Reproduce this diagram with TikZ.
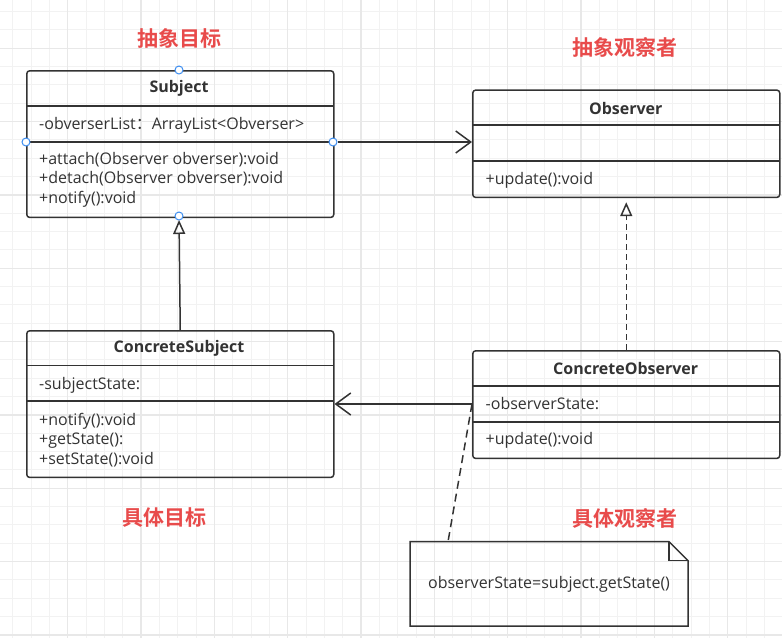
\documentclass[tikz,border=0pt]{standalone}
\usepackage{fontspec}
\setmainfont{Open Sans}
\newfontfamily\cjk{Noto Sans CJK SC}[BoldFont={Noto Sans CJK SC Bold}]
\usepackage{xcolor}
\usetikzlibrary{positioning, arrows.meta, calc}

\definecolor{linegray}{HTML}{333333}
\definecolor{titlered}{HTML}{E84B4B}
\definecolor{pinblue}{HTML}{3C8DF0}
\definecolor{gridminor}{HTML}{F2F2F2}
\definecolor{gridmajor}{HTML}{E8E8E8}

\begin{document}
\begin{tikzpicture}[
		x=1pt, y=-1pt,
		every node/.style={font=\fontsize{16}{19.5}\selectfont, text=linegray, inner sep=0pt},
		classbox/.style={draw=linegray, line width=1.5pt, rounded corners=3pt, minimum width=307pt, anchor=north west},
		classname/.style={font=\fontsize{16}{19}\selectfont\bfseries},
		member/.style={anchor=west, align=left},
		title/.style={font=\cjk\fontsize{21}{24}\selectfont\bfseries, text=titlered},
		divider/.style={draw=linegray, line width=1.5pt},
		assoc/.style={draw=linegray, line width=1.5pt, -{Straight Barb[length=15pt, width=22pt, line width=1.5pt]}},
		generalize/.style={draw=linegray, line width=1.5pt, -{Triangle[open, length=14pt, width=12pt, line width=1.5pt]}, shorten >=4pt},
		realize/.style={generalize, dash pattern=on 6pt off 4pt},
		notelink/.style={draw=linegray, line width=1.5pt, dash pattern=on 8pt off 5pt},
		pin/.style={circle, draw=pinblue, fill=white, line width=1pt, minimum size=8pt}
		]
		\useasboundingbox (0,0) rectangle (782,638);
		
		% Grid
		\foreach \k in {0,...,41}
			\draw[gridminor, line width=1pt] ({12.7+18.333*\k},0) -- ({12.7+18.333*\k},638);
		\foreach \k in {0,...,34}
			\draw[gridminor, line width=1pt] (0,{11.6+18.333*\k}) -- (782,{11.6+18.333*\k});
		\foreach \k in {0,...,9}
			\draw[gridmajor, line width=1.2pt] ({67.7+73.333*\k},0) -- ({67.7+73.333*\k},638);
		\foreach \k in {0,...,8}
			\draw[gridmajor, line width=1.2pt] (0,{48.3+73.333*\k}) -- (782,{48.3+73.333*\k});
		
		% Titles
		\node[title] (subjtitle) at (179,38) {抽象目标};
		\node[title] (obstitle) at (625,47) {抽象观察者};
		\node[title] (csubjtitle) at (164,518) {具体目标};
		\node[title] (cobstitle) at (625,518) {具体观察者};
		
		% Subject
		\node[classbox, minimum height=146.7pt] (subj) at (26,70) {};
		\draw[divider] (26,106) -- (333,106);
		\draw[divider] (26,142) -- (333,142);
		\node[classname] (subjname) at (179,88) {Subject};
		\node[member] (subjattr) at (39,125) {-obverserList{\cjk ：}ArrayList<Obverser>};
		\node[member] (subjops) at (39,179.5) {+attach(Observer obverser):void\\+detach(Observer obverser):void\\+notify():void};
		
		% Observer
		\node[classbox, minimum height=107.4pt] (obs) at (472,89.3) {};
		\draw[divider] (472,125) -- (779,125);
		\draw[divider] (472,161) -- (779,161);
		\node[classname] (obsname) at (625.7,108) {Observer};
		\node[member] (obsops) at (485.5,180) {+update():void};
		
		% ConcreteSubject
		\node[classbox, minimum height=146.7pt] (csubj) at (26,330) {};
		\draw[divider] (26,365.7) -- (333,365.7);
		\draw[divider] (26,401) -- (333,401);
		\node[classname] (csubjname) at (179,348.3) {ConcreteSubject};
		\node[member] (csubjattr) at (39,385) {-subjectState:};
		\node[member] (csubjops) at (39,440) {+notify():void\\+getState():\\+setState():void};
		
		% ConcreteObserver
		\node[classbox, minimum height=107.7pt] (cobs) at (472,350) {};
		\draw[divider] (472,386) -- (779,386);
		\draw[divider] (472,422) -- (779,422);
		\node[classname] (cobsname) at (625.7,368.3) {ConcreteObserver};
		\node[member] (cobsattr) at (485.5,404) {-observerState:};
		\node[member] (cobsops) at (485.5,440) {+update():void};
		\coordinate (cobsleft) at (472,404);
		
		% Note
		\node[minimum width=277.7pt, minimum height=84pt, anchor=north west] (note) at (410,541.7) {observerState=subject.getState()};
		\draw[linegray, line width=1.5pt] (note.north west) -- ($(note.north east)+(-19,0)$) -- ($(note.north east)+(0,19)$) -- (note.south east) -- (note.south west) -- cycle;
		\draw[linegray, line width=1.5pt] ($(note.north east)+(-19,0)$) -- ++(0,19) -- ++(19,0);
		\coordinate (notetop) at ($(note.north west)+(38,0)$);
		
		% Connection pins on Subject
		\node[pin] (pintop) at (179,70) {};
		\node[pin] (pinleft) at (26,142) {};
		\node[pin] (pinright) at (333,142) {};
		\node[pin] (pinbottom) at (179,216) {};
		
		% Relations
		\draw[assoc] (pinright) -- (obs.west |- pinright);
		\draw[assoc] (cobsleft) -- (csubj.east |- cobsleft);
		\draw[generalize] (csubj.north) -- (pinbottom.center);
		\draw[realize] (cobs.north) -- (obs.south);
		\draw[notelink] (cobsleft) -- (notetop);
		
	\end{tikzpicture}
\end{document}
